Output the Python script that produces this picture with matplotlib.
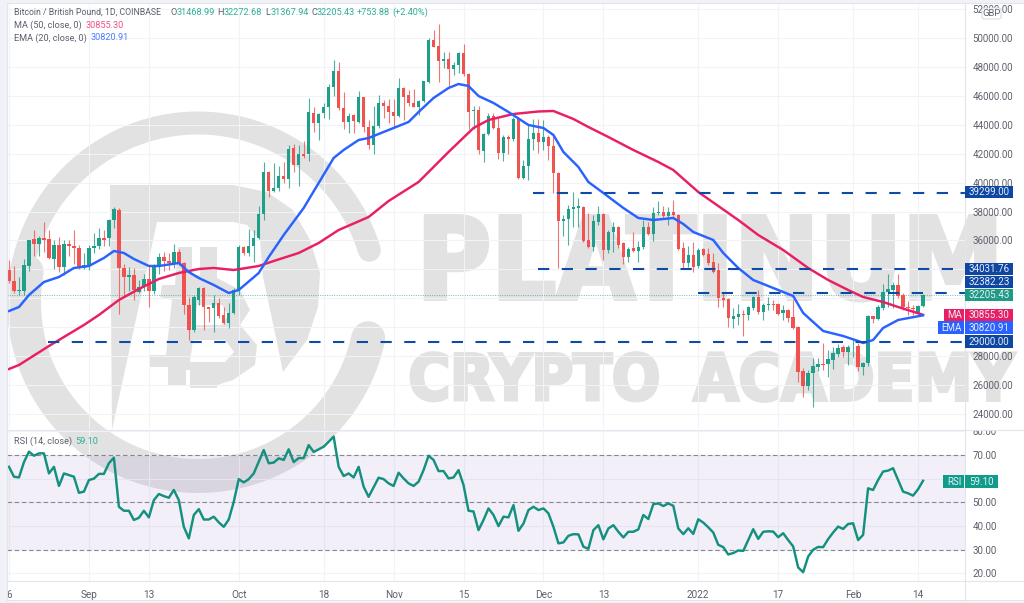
import numpy as np
import matplotlib
matplotlib.use('Agg')
import matplotlib.pyplot as plt
import matplotlib.patheffects as pe
from matplotlib import font_manager as fm
from matplotlib.patches import Polygon, Rectangle, FancyBboxPatch
from matplotlib.transforms import Bbox

opens = [33950,33200,32500,32500,34250,36100,35750,36170,36100,34700,
         35700,34150,35750,35600,35500,34100,34250,35450,35600,36150,
         36150,37400,38100,34100,33500,33600,32450,32800,33350,32500,
         34250,34850,34580,34450,35200,34450,31500,29800,31900,32700,
         31400,31300,31650,30850,30300,31000,32600,35550,35150,35600,
         36200,37800,40750,39400,39600,40450,40250,42400,41200,42000,
         41950,44800,44100,44800,45200,46600,47700,45150,44200,44650,
         44200,45900,43850,42600,43900,45500,45300,44900,44600,46550,
         46050,45500,45200,45650,46950,49850,49450,48400,48550,47850,
         48150,48950,47500,44950,45000,42200,43350,44600,43750,42050,
         43150,43000,44400,40300,41150,43000,43400,42800,43150,42550,
         40650,37350,37450,38150,38250,38300,36000,35550,37300,37850,
         35350,36600,36900,35800,34850,35480,35250,35550,36950,36450,
         37900,38000,37700,38000,37750,35450,34450,35000,34200,35400,
         35050,34500,33950,32050,31950,30580,30700,30900,30850,31350,
         32100,31050,31500,31600,31600,30950,31200,30700,30000,26950,
         25950,26850,27250,27470,27450,27750,28150,28600,28250,28600,
         28700,27250,27500,30780,30600,31300,32400,32580,32900,32200,
         31400,31350,31000,31468.99]
closes = [33200,32500,32600,34300,36030,35750,36170,36050,34800,35700,
          34150,35750,35600,35450,34100,34300,35500,35600,36150,36000,
          37400,38150,34100,33500,33600,32550,32800,33350,32500,34250,
          34850,34580,34450,35200,34450,31500,29800,32100,32700,31400,
          31250,31650,30800,30300,31000,32550,35550,35150,35600,36200,
          37800,40750,39400,39600,40450,40250,42350,41200,41980,41850,
          44900,44100,44750,45200,46600,47700,45150,44200,44600,44250,
          45900,43850,42600,43900,45500,45300,44900,44600,46550,45900,
          45500,45200,45650,47000,49850,49400,48400,48550,47850,48150,
          48950,47500,44900,45050,42250,43350,44600,43750,42050,43150,
          43000,44400,40300,41150,43000,43400,42800,43150,42550,40650,
          37350,37500,38200,38300,38350,35950,35550,37350,37850,35350,
          36600,36900,35700,34850,35400,35270,35550,36950,36450,37900,
          38000,37700,38000,37750,35400,34450,35000,34150,35350,35000,
          34450,33800,32000,31870,30650,30800,30900,30830,31400,32100,
          31050,31550,31600,31500,30900,31200,30650,29950,26900,25950,
          26850,27300,27450,27350,27800,28200,28550,28250,28600,28650,
          27250,27500,30780,30550,31400,32400,32650,32900,32150,31400,
          31350,31230,31451.55,32205.43]
highs = [34650,34230,33470,34700,36050,36700,36300,37300,36700,36000,
         36250,36000,36000,36700,35700,35150,35700,36500,36860,36700,
         37500,38300,38250,34400,34150,34100,33270,33700,34300,34350,
         35130,35200,35100,35750,35400,34500,32100,32200,32800,32800,
         31400,32200,32050,31400,31700,32700,35700,35600,36800,36700,
         38400,41400,40800,41350,41150,41400,42600,42650,42600,42880,
         45850,45200,44800,45500,46850,48480,48350,46250,44800,44750,
         46300,45950,44350,45300,46050,45700,45800,45800,47250,46600,
         46400,46450,45700,47050,50000,50550,51000,49000,49000,48350,
         49000,49580,47550,45300,45300,43450,44800,44800,44500,43300,
         43300,44550,44500,41550,44050,44400,44400,44350,43300,43300,
         40750,37750,38450,39350,38900,38350,37900,37750,38400,37900,
         36700,37250,37000,35900,35550,36580,35950,37400,37250,38300,
         38730,38400,38300,38800,37850,35900,35600,35900,35500,35500,
         35500,35130,34450,32430,32000,31300,31600,31180,31450,32150,
         32600,31650,32100,31900,31650,31550,31250,31850,30050,27150,
         27050,27870,27900,28900,28400,28600,28850,28750,28800,29150,
         28900,27600,30850,30800,31500,33000,33700,33100,33680,32350,
         31800,31550,31500,32272.68]
lows = [33050,32360,32230,32200,33900,34900,34900,35200,34700,34000,
        33800,33600,34900,34400,34000,34000,33950,35130,35400,35600,
        35600,36860,30900,32100,32500,31850,32350,32500,31400,32300,
        33700,33900,33950,34100,34300,30900,29100,29650,31500,29800,
        30360,29700,30650,30250,29950,30900,32200,35000,34900,34500,
        36100,37400,39000,39350,39400,40000,39600,40700,39760,41700,
        41500,43500,42950,44450,44400,46000,45000,43700,43450,43450,
        44100,43500,42300,41950,43800,44480,44100,43850,44550,44350,
        45300,45200,44650,45600,46900,49350,46950,47900,46550,47450,
        47600,47350,43700,43700,41950,41400,43300,43700,41650,41500,
        41950,42850,40250,40250,40200,42250,42050,42250,41550,39300,
        34100,36300,35700,36950,36950,35900,35500,35300,37050,34650,
        35150,35200,35500,34350,34500,35200,34500,35400,36350,35950,
        37760,37550,37050,37650,35350,34100,34150,33800,34100,34900,
        34300,33750,31400,31400,30000,29950,30150,29400,30500,31200,
        30900,30500,31200,31200,30850,30500,30350,29900,26200,25200,
        25650,24480,26950,27050,26550,27100,27950,27950,27400,27950,
        27000,26700,27300,30300,30500,31200,31400,31300,32050,31200,
        30850,30850,30900,31367.94]

ma_days = [0,2,8,15,18,22,26,30,34,38,41,45,50,53,58,62,66,72,76,82,88,93,96,101,106,109,
           113,116,120,125,130,133,138,142,146,150,155,160,164,168,171,175,178,183]
ma_vals = [27108,27385,28699,30151,30843,31880,32641,33332,33748,34024,34093,33955,34231,
           34577,35131,35822,36721,37620,38727,40041,42116,43775,44329,44744,44917,44951,
           44398,43845,43153,42254,41424,40871,39349,38381,37413,36376,35338,34093,33263,
           32572,32088,31742,31396,30855.30]
ema_days = [0,2,4,7,10,13,16,19,21,23,25,28,30,34,36,38,41,44,46,50,52,55,59,62,65,67,70,72,
            75,80,82,85,88,90,92,94,97,100,104,107,109,111,114,116,119,123,126,129,133,135,
            137,141,143,146,149,154,157,159,163,167,170,171,173,175,178,183]
ema_vals = [31119,31396,32226,33125,33471,34093,34231,34785,35269,35131,34716,34231,34231,
            34438,33816,33402,32917,32364,32572,33748,34853,36375,38243,39972,41701,42254,
            42946,43084,43499,44191,44882,45850,46542,46818,46680,45989,45505,44882,43983,
            43775,43291,42116,41078,40041,39280,38243,37551,37413,37551,37136,36583,36030,
            35131,34093,33263,32572,32157,30981,29736,29390,29044,28906,29113,29943,30497,30820.91]

rsi = [65,60.8,60.5,67,71.4,69.7,70.7,70.7,62.2,65,56.9,62.2,61.5,60.8,54,54.5,59.4,60,62,62,
       66.5,68.9,48.1,46.4,46.4,42.5,43.4,46.4,43.6,50.9,53.5,52.6,51.9,55.2,50.9,39.6,34.7,
       44.6,47.1,42.7,42.7,43.9,41.5,39.6,42.7,50.2,59.8,58.4,59.8,62.2,67.2,72.1,66.5,66.8,
       68.6,67.9,72.4,67,68.7,68.7,74.2,71.3,72.4,73.5,75.6,77.8,65,61.1,62.2,60.5,65,56.6,
       52.3,56.3,60.4,59.8,58,56.9,62.5,60.1,58,56.9,58.7,63.6,69.7,67.9,63.2,63.2,60.1,60.5,
       63.6,57.3,46.4,46.1,38.2,42.5,47.4,44.6,39.9,43.9,43.6,48.8,37.9,41,46.7,48.1,46.7,47.4,
       45.3,39.6,32.6,33,35.8,36.5,36.4,31.2,30.3,38.2,40.3,34.3,38.9,40.3,37.5,35.1,37.5,37.5,
       38.5,44.6,42.9,49.2,49.5,48.4,49.5,48.5,38.9,36.5,39,36.6,42.8,41.4,39.4,37.2,32,31,
       27.9,28.5,29.6,29.4,34,38.6,34.5,37.5,37.7,37.6,35.2,36.9,34,31.3,22.4,20.4,27,29.9,
       31.1,31,34.4,37.2,39.7,38.7,40.8,41.1,34,36.2,55.9,55.2,59.4,63,63.4,64.4,59.4,54.5,
       53.8,52.8,55.5,59.10]

tick_days = [0,16,28,46,63,77,91,107,119,138,154,169,182]
tick_labels = ['6','Sep','13','Oct','18','Nov','15','Dec','13','2022','17','Feb','14']
price_ticks = list(range(24000, 52001, 2000))
# these three sit under the price tags in the reference
hidden_ticks = (30000, 32000, 34000)
rsi_ticks = [20,30,40,50,60,70,80]

# drawn lines: (first candle, price)
levels = [(7.8, 29000), (105, 39299), (106, 34031.76), (137.9, 32382.23)]

GREEN = '#1f9e89'
RED = '#f0524f'
MA_COL = '#e91e63'
EMA_COL = '#2962ff'
RSI_COL = '#14907f'
LEVEL_COL = '#0e4aa6'
GREY = '#5d606b'
GRID = '#f1f3f8'
MARK = '#e2e2e2'

plt.rcParams['font.family'] = ['Roboto', 'DejaVu Sans']
W, H = 1024, 603
fig = plt.figure(figsize=(W / 100, H / 100), dpi=100, facecolor='#f1f2f7')


def pixel_axes(zorder):
    a = fig.add_axes([0, 0, 1, 1], zorder=zorder)
    a.set_xlim(0, W)
    a.set_ylim(H, 0)
    a.axis('off')
    a.patch.set_alpha(0)
    return a


def panel(x0, y0, x1, y1, zorder):
    a = fig.add_axes([x0 / W, 1 - y1 / H, (x1 - x0) / W, (y1 - y0) / H], zorder=zorder)
    a.patch.set_alpha(0)
    for s in a.spines.values():
        s.set_visible(False)
    return a


# background and watermark
bg = pixel_axes(0)
bg.add_patch(Rectangle((7, 3), W - 7, 597, color='white', lw=0))


def arc(cx, cy, r, a0, a1, lw):
    t = np.radians(np.linspace(a0, a1, 200))
    bg.plot(cx + r * np.cos(t), cy - r * np.sin(t), color=MARK, lw=lw * 0.72, solid_capstyle='round')


arc(198, 302, 179, 16.8, 200, 23)
arc(198, 302, 174, 170, 348, 34)

# big P with the two spikes, read in picture pixels
bg.add_patch(Polygon([(110, 185), (233, 185), (267, 192), (293, 210), (310, 240), (320, 273),
                      (318, 307), (307, 340), (283, 372), (275, 333), (263, 277), (260, 240),
                      (247, 225), (233, 222), (157, 222), (112, 430)], color=MARK, lw=0))
# bitcoin B
bg.add_patch(Polygon([(178, 247), (192, 247), (192, 275), (200, 275), (200, 247), (217, 247),
                      (217, 278), (240, 290), (250, 310), (240, 325), (257, 345), (255, 365),
                      (233, 380), (217, 385), (217, 388), (190, 388), (190, 370), (186, 370),
                      (186, 385), (168, 385), (168, 367), (150, 367), (150, 355), (166, 355),
                      (172, 300), (160, 297), (162, 285), (175, 285)], color=MARK, lw=0))
bg.add_patch(Polygon([(197, 305), (222, 305), (228, 315), (222, 325), (195, 325)], color='white', lw=0))
bg.add_patch(Polygon([(193, 340), (225, 340), (234, 352), (225, 362), (190, 362)], color='white', lw=0))

# watermark words, sized so each one spans its width in the reference
bold = fm.FontProperties(family='DejaVu Sans', stretch='condensed', weight='bold')
if 'Condensed' in fm.findfont(bold):
    mark_font = dict(family='DejaVu Sans', stretch='condensed', weight='bold')
else:
    mark_font = dict(family='Liberation Sans', weight='bold')


def mark_word(s, x0, x1, yc, stroke):
    t = bg.text(x0, yc, s, color=MARK, fontsize=60,
                path_effects=[pe.withStroke(linewidth=stroke, foreground=MARK, joinstyle='miter')], **mark_font)
    w = t.get_window_extent(fig.canvas.get_renderer()).width
    size = 60 * (x1 - x0 - 3) / w
    t.set_fontsize(size)
    t.set_position((x0 + 1.5, yc + 0.36 * size * 100 / 72))


mark_word('PLATINUM', 415, 1005, 258, 3)
mark_word('CRYPTO', 407, 662, 377, 2.5)
mark_word('ACADEMY', 692, 1016, 377, 2.5)

# price panel
x_left = -0.4
x_right = 191.4
ax = panel(7, 3, 965, 429, 2)
ax_rsi = panel(7, 431, 965, 581, 2)

days = np.arange(len(closes))
opens = np.array(opens)
closes = np.array(closes)
colors = [GREEN if c >= o else RED for o, c in zip(opens, closes)]
ax.vlines(days, lows, highs, colors=colors, lw=0.8, alpha=0.8, zorder=3)
ax.bar(days, np.abs(closes - opens), bottom=np.minimum(opens, closes), width=0.68,
       color=colors, lw=0, zorder=4)

ax.plot(ma_days, ma_vals, color=MA_COL, lw=1.75, zorder=5, solid_joinstyle='round')
ax.plot(ema_days, ema_vals, color=EMA_COL, lw=1.75, zorder=5, solid_joinstyle='round')

for start, level in levels:
    ax.plot([start, x_right], [level, level], color=LEVEL_COL, lw=1.5, dashes=(5.4, 6), zorder=6)
ax.axhline(closes[-1], color='#26a69a', lw=0.7, ls=(0, (1, 1.4)), zorder=2, alpha=0.7)

ax.set_xlim(x_left, x_right)
ax.set_ylim(22958, 52420)
ax.set_yticks(price_ticks)
ax.set_yticklabels(['' if p in hidden_ticks else '%.2f' % p for p in price_ticks])
ax.set_xticks(tick_days)
ax.tick_params(axis='x', length=0, labelbottom=False)
ax.yaxis.tick_right()
ax.tick_params(axis='y', length=0, pad=5.2, labelsize=7, labelcolor=GREY)
ax.grid(True, color=GRID, lw=0.8, zorder=0)
ax.set_axisbelow(True)

# rsi panel
ax_rsi.axhspan(30, 70, color='#7e57c2', alpha=0.09, lw=0, zorder=1)
for v in (70, 50, 30):
    ax_rsi.axhline(v, color='#85878f', lw=0.8, ls=(0, (4, 2.5)), zorder=2)
ax_rsi.plot(days, rsi, color=RSI_COL, lw=1.75, zorder=4, solid_joinstyle='round')
ax_rsi.set_xlim(x_left, x_right)
ax_rsi.set_ylim(16.67, 80.16)
ax_rsi.set_yticks(rsi_ticks)
ax_rsi.set_yticklabels(['%.2f' % v for v in rsi_ticks])
ax_rsi.yaxis.tick_right()
ax_rsi.tick_params(axis='y', length=0, pad=5.2, labelsize=7, labelcolor=GREY)
ax_rsi.set_xticks(tick_days)
ax_rsi.set_xticklabels(tick_labels)
ax_rsi.tick_params(axis='x', length=0, pad=6.5, labelsize=7.2, labelcolor=GREY)
ax_rsi.grid(True, color=GRID, lw=0.8, zorder=0)
ax_rsi.set_axisbelow(True)

# the 80.00 label is cut by the panel edge
clip = Bbox([[965, 0], [W, H - 431]])
for lab in ax_rsi.get_yticklabels():
    lab.set_clip_box(clip)
    lab.set_clip_on(True)

# overlay: separators, legend text, price tags
top = pixel_axes(5)
for x0, y0, x1, y1 in [(7, 430, W, 430), (7, 581, W, 581), (965, 3, 965, 600), (7, 600, W, 600), (7, 3, W, 3)]:
    top.plot([x0, x1], [y0, y1], color='#e3e5ec', lw=0.8)
top.plot([7, 7], [3, 600], color='#e3e5ec', lw=0.8)


def legend_text(x, y, s, color=GREY, size=6.6):
    top.text(x, y, s, color=color, fontsize=size, va='center', ha='left')


TEAL_TXT = '#2fae9c'
legend_text(13.5, 12.5, 'Bitcoin / British Pound, 1D, COINBASE', size=6.35)
for x, s in [(170.5, 'O'), (217.5, 'H'), (265, 'L'), (311, 'C')]:
    legend_text(x, 12.5, s)
for x, s in [(177, '%.2f' % opens[-1]), (224, '%.2f' % highs[-1]), (270.5, '%.2f' % lows[-1]),
             (317, '%.2f' % closes[-1]), (357, '+753.88'), (392, '(+2.40%)')]:
    legend_text(x, 12.5, s, TEAL_TXT)
legend_text(13.5, 25, 'MA (50, close, 0)')
legend_text(86, 25, '%.2f' % ma_vals[-1], '#f0508c')
legend_text(13.5, 38, 'EMA (20, close, 0)')
legend_text(91, 38, '%.2f' % ema_vals[-1], '#4d7dff')
legend_text(13.5, 441, 'RSI (14, close)')
legend_text(75, 441, '%.2f' % rsi[-1], TEAL_TXT)


def tag(y, value, color, x0=965, x1=1013, name=None, name_x=None):
    top.add_patch(Rectangle((x0, y - 6.3), x1 - x0, 12.6, color=color, lw=0, zorder=3))
    top.text((x0 + x1) / 2, y + 0.2, value, color='#e9eefc', fontsize=7, ha='center', va='center', zorder=4)
    if name:
        top.add_patch(Rectangle((name_x, y - 6.3), x0 - name_x - 0.8, 12.6, color=color, lw=0, zorder=3))
        top.text((name_x + x0) / 2, y + 0.2, name, color='#e9eefc', fontsize=7, ha='center', va='center', zorder=4)


DARK = '#0d47a1'
tag(192, '39299.00', DARK)
tag(269, '34031.76', DARK)
tag(282, '32382.23', DARK)
tag(295, '%.2f' % closes[-1], '#1d9b83')
tag(315, '%.2f' % ma_vals[-1], MA_COL, name='MA', name_x=944)
tag(327.7, '%.2f' % ema_vals[-1], EMA_COL, name='EMA', name_x=938)
tag(341.6, '29000.00', DARK)
tag(481.7, '%.2f' % rsi[-1], '#0f9d8a', x1=998, name='RSI', name_x=943)

top.add_patch(FancyBboxPatch((982, 8), 19, 11, boxstyle='round,pad=0,rounding_size=2',
                             fc='white', ec='#d6d8df', lw=0.7, zorder=3))
top.text(991.5, 13.8, 'GBP', color=GREY, fontsize=6.8, ha='center', va='center', zorder=4)

fig.savefig('out.png', dpi=100, facecolor=fig.get_facecolor())
